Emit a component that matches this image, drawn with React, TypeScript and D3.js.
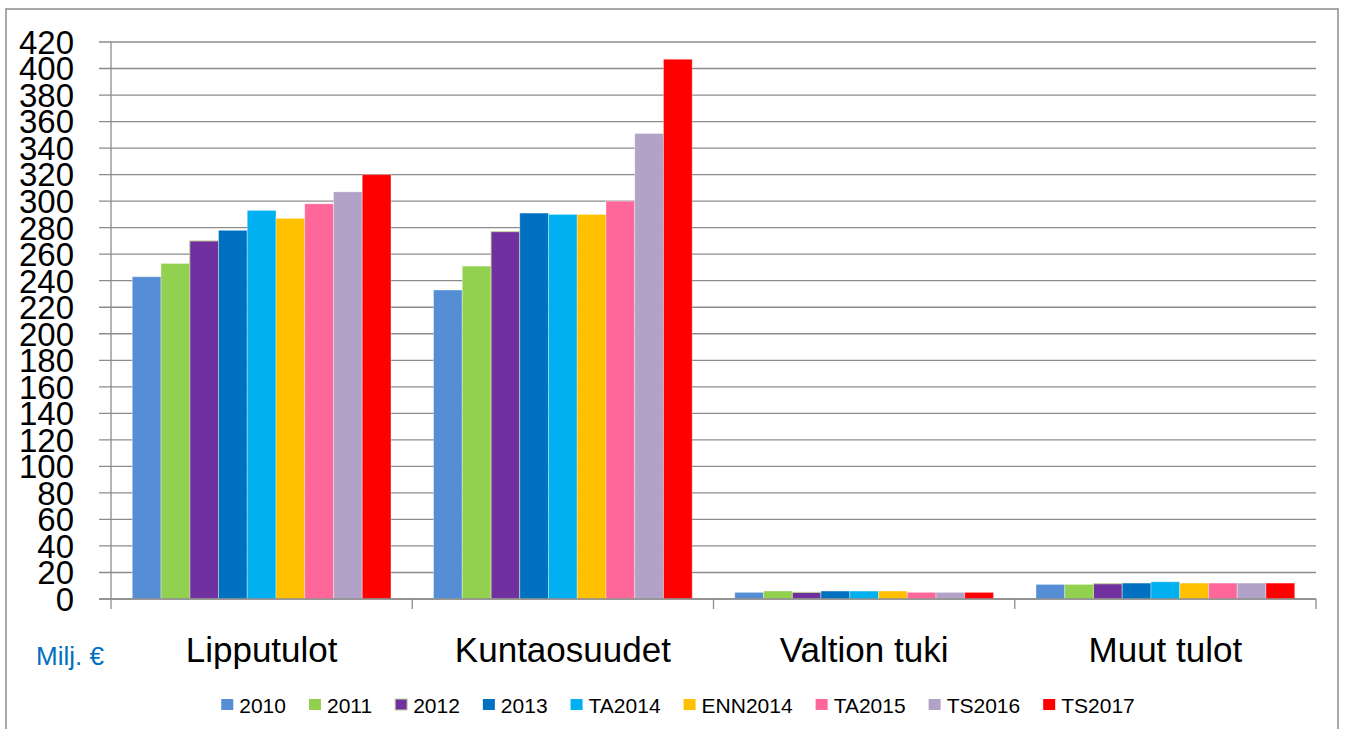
import React, { useRef, useEffect } from 'react';
import * as d3 from 'd3';

// categories and series
const categories = ['Lipputulot', 'Kuntaosuudet', 'Valtion tuki', 'Muut tulot'];
const seriesNames = ['2010', '2011', '2012', '2013', 'TA2014', 'ENN2014', 'TA2015', 'TS2016', 'TS2017'];
const seriesColors = ['#558ed5', '#92d050', '#7030a0', '#0070c0', '#00b0f0', '#ffc000', '#ff6699', '#b3a2c7', '#ff0000'];

// values per series, in category order
const v2010 = [243, 233, 5, 11];
const v2011 = [253, 251, 6, 11];
const v2012 = [270, 277, 5, 11.5];
const v2013 = [278, 291, 6, 12];
const vTA2014 = [293, 290, 6, 13];
const vENN2014 = [287, 290, 6, 12];
const vTA2015 = [298, 300, 5, 12];
const vTS2016 = [307, 351, 5, 12];
const vTS2017 = [320, 407, 5, 12];
const seriesValues = [v2010, v2011, v2012, v2013, vTA2014, vENN2014, vTA2015, vTS2016, vTS2017];

const yTicks = d3.range(0, 421, 20);
const unitLabel = 'Milj. €';

const W = 1347;
const H = 729;

const Chart = () => {
  const svgRef = useRef(null);

  useEffect(() => {
    if (!svgRef.current) return;
    document.body.style.margin = '0';

    const svg = d3.select(svgRef.current);
    svg.selectAll('*').remove();

    const font = '"Liberation Sans", Arial, sans-serif';
    const gridColor = '#8c8c8c';

    // chart area border
    svg.append('rect')
      .attr('x', 6).attr('y', 9)
      .attr('width', 1332).attr('height', 740)
      .attr('fill', 'white')
      .attr('stroke', gridColor)
      .attr('stroke-width', 1.5);

    const plot = { left: 111, right: 1316, top: 42, bottom: 599 };

    const y = d3.scaleLinear().domain([0, 420]).range([plot.bottom, plot.top]);
    const x0 = d3.scaleBand().domain(categories).range([plot.left, plot.right]).padding(0);
    const x1 = d3.scaleBand().domain(seriesNames).range([0, x0.bandwidth()])
      .paddingInner(0).paddingOuter(0.74);

    // gridlines + y ticks
    svg.append('g').selectAll('line')
      .data(yTicks)
      .enter().append('line')
      .attr('x1', plot.left - 12).attr('x2', plot.right)
      .attr('y1', d => y(d)).attr('y2', d => y(d))
      .attr('stroke', gridColor)
      .attr('stroke-width', 1.3);

    svg.append('g').selectAll('text')
      .data(yTicks)
      .enter().append('text')
      .attr('x', 74)
      .attr('y', d => y(d))
      .attr('dy', '0.36em')
      .attr('text-anchor', 'end')
      .attr('font-family', font)
      .attr('font-size', 33)
      .attr('fill', '#000')
      .text(d => d);

    // bars
    seriesNames.forEach((name, si) => {
      svg.append('g').selectAll('rect')
        .data(seriesValues[si])
        .enter().append('rect')
        .attr('x', (d, i) => x0(categories[i]) + x1(name))
        .attr('y', d => y(d))
        .attr('width', x1.bandwidth())
        .attr('height', d => plot.bottom - y(d))
        .attr('fill', seriesColors[si])
        .attr('stroke', name === '2012' ? '#c3d69b' : 'rgba(255,255,255,0.35)')
        .attr('stroke-width', 1);
    });

    // axes lines
    svg.append('line')
      .attr('x1', plot.left).attr('x2', plot.left)
      .attr('y1', plot.top).attr('y2', plot.bottom + 10)
      .attr('stroke', gridColor).attr('stroke-width', 1.3);
    svg.append('line')
      .attr('x1', plot.left - 12).attr('x2', plot.right)
      .attr('y1', plot.bottom).attr('y2', plot.bottom)
      .attr('stroke', gridColor).attr('stroke-width', 1.5);

    const catEdges = categories.map(c => x0(c) + x0.bandwidth());
    svg.append('g').selectAll('line')
      .data(catEdges)
      .enter().append('line')
      .attr('x1', d => d).attr('x2', d => d)
      .attr('y1', plot.bottom).attr('y2', plot.bottom + 10)
      .attr('stroke', gridColor).attr('stroke-width', 1.3);

    // category labels
    svg.append('g').selectAll('text')
      .data(categories)
      .enter().append('text')
      .attr('x', d => x0(d) + x0.bandwidth() / 2)
      .attr('y', 662)
      .attr('text-anchor', 'middle')
      .attr('font-family', font)
      .attr('font-size', 35)
      .attr('fill', '#000')
      .text(d => d);

    // unit label
    svg.append('text')
      .attr('x', 36).attr('y', 665)
      .attr('font-family', font)
      .attr('font-size', 26)
      .attr('fill', '#0070c0')
      .text(unitLabel);

    // legend
    const legend = svg.append('g');
    let cursor = 0;
    seriesNames.forEach((name, i) => {
      const item = legend.append('g').attr('transform', `translate(${cursor},0)`);
      item.append('rect')
        .attr('x', 0).attr('y', 699)
        .attr('width', 12).attr('height', 11)
        .attr('fill', seriesColors[i])
        .attr('stroke', name === '2012' ? '#c3d69b' : 'none');
      const t = item.append('text')
        .attr('x', 18).attr('y', 713)
        .attr('font-family', font)
        .attr('font-size', 21)
        .attr('fill', '#000')
        .text(name);
      const len = (t.node() as SVGTextElement).getComputedTextLength();
      cursor += 18 + len + 23;
    });
    const legendWidth = cursor - 23;
    legend.attr('transform', `translate(${678 - legendWidth / 2},0)`);
  }, []);

  return <svg ref={svgRef} width={W} height={H} style={{ display: 'block' }}></svg>;
};

export default function App() {
  return <Chart />;
}
